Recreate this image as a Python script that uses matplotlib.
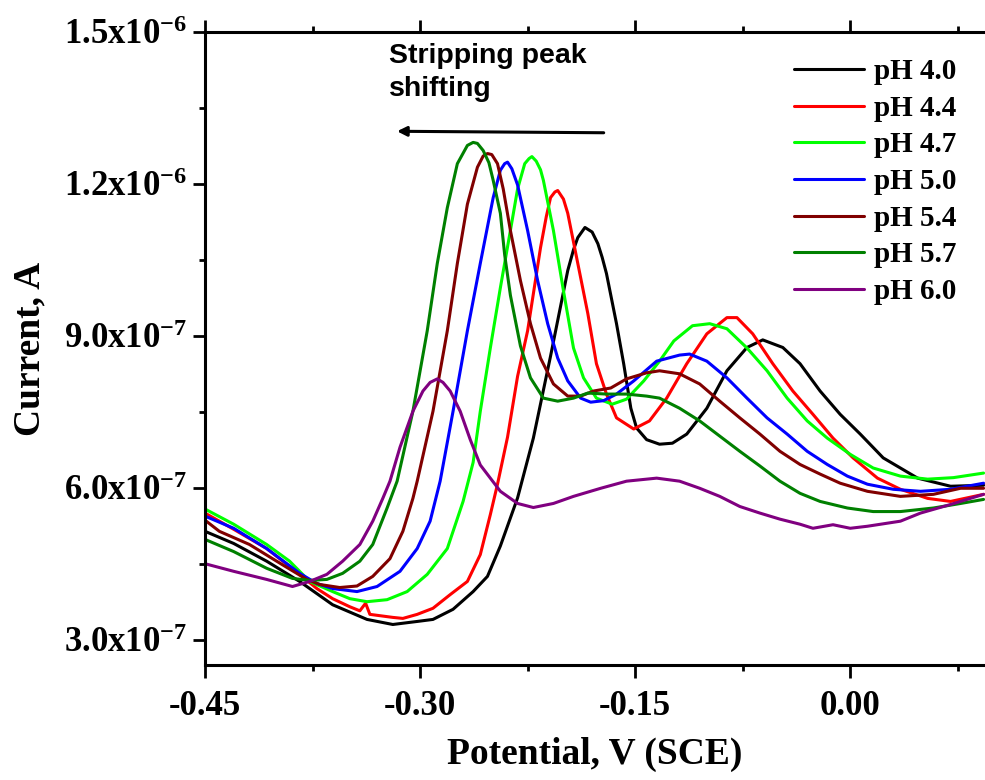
import numpy as np
import matplotlib
matplotlib.use("Agg")
import matplotlib.pyplot as plt
from matplotlib.ticker import FixedLocator, MultipleLocator

plt.rcParams['font.family'] = ['Liberation Serif', 'DejaVu Serif']
plt.rcParams['font.weight'] = 'bold'
plt.rcParams['mathtext.fontset'] = 'custom'
plt.rcParams['mathtext.rm'] = 'Liberation Serif:bold'
plt.rcParams['mathtext.it'] = 'Liberation Serif:bold'
plt.rcParams['mathtext.bf'] = 'Liberation Serif:bold'
plt.rcParams['axes.unicode_minus'] = False

SCALE = 1e-7  # current values below are in units of 1e-7 A

labels = ['pH 4.0', 'pH 4.4', 'pH 4.7', 'pH 5.0', 'pH 5.4', 'pH 5.7', 'pH 6.0']
colors = ['#000000', '#FF0000', '#00FF00', '#0000FF', '#800000', '#008000', '#800080']

x_ph40 = [-0.450, -0.430, -0.407, -0.384, -0.361, -0.337, -0.319, -0.302, -0.291, -0.277, -0.263, -0.253,
          -0.244, -0.232, -0.221, -0.209, -0.197, -0.193, -0.190, -0.185, -0.180, -0.176, -0.173, -0.170,
          -0.163, -0.158, -0.153, -0.149, -0.142, -0.133, -0.124, -0.114, -0.100, -0.086, -0.072, -0.061,
          -0.047, -0.035, -0.021, -0.007, 0.007, 0.023, 0.047, 0.070, 0.093]
y_ph40 = [5.14, 4.90, 4.55, 4.15, 3.69, 3.40, 3.30, 3.36, 3.40, 3.60, 3.95, 4.25,
          4.85, 5.80, 6.98, 8.60, 10.29, 10.70, 10.94, 11.14, 11.05, 10.82, 10.55, 10.23,
          9.24, 8.45, 7.57, 7.18, 6.95, 6.86, 6.88, 7.06, 7.57, 8.31, 8.77, 8.92,
          8.77, 8.45, 7.91, 7.45, 7.06, 6.59, 6.19, 6.03, 6.05]

x_ph44 = [-0.450, -0.430, -0.407, -0.384, -0.372, -0.361, -0.349, -0.342, -0.338, -0.335, -0.319, -0.312,
          -0.302, -0.291, -0.279, -0.267, -0.258, -0.251, -0.246, -0.239, -0.232, -0.225, -0.216, -0.212,
          -0.209, -0.206, -0.204, -0.200, -0.197, -0.190, -0.183, -0.177, -0.170, -0.163, -0.151, -0.140,
          -0.128, -0.114, -0.100, -0.086, -0.079, -0.068, -0.054, -0.040, -0.026, -0.012, 0.002, 0.019,
          0.035, 0.054, 0.070, 0.093]
y_ph44 = [5.50, 5.18, 4.80, 4.29, 4.01, 3.81, 3.65, 3.57, 3.72, 3.50, 3.44, 3.42,
          3.50, 3.62, 3.89, 4.15, 4.68, 5.47, 6.07, 7.00, 8.20, 9.10, 10.74, 11.35,
          11.73, 11.84, 11.87, 11.70, 11.42, 10.43, 9.44, 8.45, 7.85, 7.38, 7.16, 7.32,
          7.77, 8.45, 9.04, 9.36, 9.36, 9.04, 8.45, 7.91, 7.45, 6.98, 6.59, 6.19,
          5.97, 5.79, 5.73, 5.87]

x_ph47 = [-0.450, -0.430, -0.407, -0.391, -0.377, -0.361, -0.349, -0.337, -0.323, -0.309, -0.295, -0.281,
          -0.270, -0.263, -0.258, -0.251, -0.244, -0.237, -0.232, -0.227, -0.224, -0.222, -0.219, -0.216,
          -0.214, -0.207, -0.200, -0.193, -0.186, -0.177, -0.166, -0.156, -0.144, -0.133, -0.123, -0.110,
          -0.098, -0.086, -0.072, -0.058, -0.044, -0.030, -0.016, 0.000, 0.016, 0.035, 0.054, 0.072, 0.093]
y_ph47 = [5.58, 5.28, 4.88, 4.55, 4.15, 3.95, 3.81, 3.75, 3.79, 3.95, 4.29, 4.80,
          5.73, 6.50, 7.51, 8.76, 9.95, 11.08, 11.90, 12.40, 12.50, 12.54, 12.45, 12.28,
          12.07, 11.08, 9.89, 8.76, 8.17, 7.77, 7.65, 7.75, 8.11, 8.50, 8.90, 9.20,
          9.24, 9.14, 8.76, 8.31, 7.77, 7.32, 6.98, 6.66, 6.39, 6.23, 6.17, 6.20, 6.29]

x_ph50 = [-0.450, -0.430, -0.407, -0.384, -0.372, -0.361, -0.344, -0.330, -0.314, -0.302, -0.293, -0.286,
          -0.277, -0.267, -0.258, -0.249, -0.244, -0.241, -0.239, -0.236, -0.232, -0.225, -0.218, -0.211,
          -0.204, -0.197, -0.188, -0.181, -0.172, -0.163, -0.151, -0.135, -0.119, -0.112, -0.100, -0.086,
          -0.072, -0.058, -0.044, -0.030, -0.016, -0.002, 0.012, 0.030, 0.049, 0.070, 0.093]
y_ph50 = [5.44, 5.20, 4.80, 4.31, 4.11, 4.01, 3.95, 4.05, 4.35, 4.80, 5.34, 6.13,
          7.51, 9.10, 10.43, 11.73, 12.27, 12.40, 12.43, 12.30, 11.98, 11.08, 10.09, 9.24,
          8.56, 8.11, 7.77, 7.69, 7.72, 7.85, 8.11, 8.50, 8.62, 8.64, 8.50, 8.17,
          7.77, 7.38, 7.06, 6.72, 6.46, 6.23, 6.07, 5.97, 5.93, 5.97, 6.09]

x_ph54 = [-0.450, -0.440, -0.419, -0.396, -0.379, -0.370, -0.356, -0.344, -0.333, -0.321, -0.312, -0.305,
          -0.302, -0.291, -0.281, -0.274, -0.267, -0.260, -0.256, -0.253, -0.250, -0.246, -0.242, -0.237,
          -0.230, -0.223, -0.216, -0.207, -0.197, -0.188, -0.179, -0.167, -0.156, -0.142, -0.133, -0.119,
          -0.105, -0.091, -0.077, -0.063, -0.049, -0.035, -0.021, -0.007, 0.012, 0.035, 0.058, 0.077, 0.093]
y_ph54 = [5.36, 5.14, 4.88, 4.48, 4.19, 4.09, 4.03, 4.06, 4.25, 4.60, 5.14, 5.79,
          6.13, 7.51, 9.10, 10.43, 11.60, 12.33, 12.55, 12.60, 12.58, 12.40, 11.90, 11.08,
          10.09, 9.24, 8.56, 8.05, 7.81, 7.81, 7.91, 7.97, 8.15, 8.27, 8.31, 8.25,
          8.05, 7.71, 7.38, 7.06, 6.72, 6.46, 6.27, 6.09, 5.93, 5.83, 5.87, 5.99, 5.99]

x_ph57 = [-0.450, -0.430, -0.407, -0.389, -0.377, -0.365, -0.354, -0.342, -0.333, -0.323, -0.316, -0.305,
          -0.295, -0.288, -0.281, -0.274, -0.267, -0.263, -0.260, -0.256, -0.252, -0.249, -0.244, -0.241,
          -0.237, -0.230, -0.223, -0.214, -0.204, -0.193, -0.183, -0.170, -0.156, -0.142, -0.133, -0.119,
          -0.105, -0.091, -0.077, -0.063, -0.049, -0.035, -0.021, -0.002, 0.016, 0.035, 0.058, 0.077, 0.093]
y_ph57 = [4.98, 4.74, 4.41, 4.21, 4.17, 4.19, 4.31, 4.55, 4.88, 5.60, 6.13, 7.51,
          9.10, 10.43, 11.53, 12.40, 12.76, 12.82, 12.80, 12.66, 12.42, 12.07, 11.42, 10.60,
          9.80, 8.80, 8.17, 7.77, 7.71, 7.77, 7.87, 7.85, 7.85, 7.81, 7.77, 7.57,
          7.32, 7.02, 6.72, 6.43, 6.13, 5.89, 5.73, 5.60, 5.53, 5.53, 5.60, 5.69, 5.77]

x_ph60 = [-0.450, -0.430, -0.407, -0.389, -0.377, -0.365, -0.354, -0.342, -0.333, -0.326, -0.321, -0.314,
          -0.305, -0.298, -0.293, -0.288, -0.284, -0.279, -0.272, -0.265, -0.258, -0.244, -0.232, -0.221,
          -0.207, -0.193, -0.174, -0.156, -0.135, -0.119, -0.105, -0.091, -0.077, -0.063, -0.049, -0.035,
          -0.026, -0.012, 0.000, 0.012, 0.035, 0.049, 0.070, 0.093]
y_ph60 = [4.50, 4.35, 4.19, 4.05, 4.15, 4.29, 4.55, 4.88, 5.34, 5.79, 6.13, 6.80,
          7.51, 7.91, 8.08, 8.15, 8.08, 7.91, 7.51, 6.95, 6.45, 5.93, 5.69, 5.61,
          5.69, 5.83, 5.99, 6.13, 6.19, 6.13, 5.99, 5.83, 5.63, 5.50, 5.38, 5.28,
          5.20, 5.27, 5.20, 5.24, 5.34, 5.50, 5.67, 5.87]

series_x = [x_ph40, x_ph44, x_ph47, x_ph50, x_ph54, x_ph57, x_ph60]
series_y = [y_ph40, y_ph44, y_ph47, y_ph50, y_ph54, y_ph57, y_ph60]

x_ticks = [-0.45, -0.30, -0.15, 0.00]
x_tick_labels = ['-0.45', '-0.30', '-0.15', '0.00']
y_ticks = [3e-7, 6e-7, 9e-7, 1.2e-6, 1.5e-6]
y_tick_labels = ['3.0x10$^{-7}$', '6.0x10$^{-7}$', '9.0x10$^{-7}$', '1.2x10$^{-6}$', '1.5x10$^{-6}$']

fig = plt.figure(figsize=(9.85, 7.8), dpi=100)
ax = fig.add_axes([205/985, 1 - 665/780, 780/985, 633/780])

for xs, ys, c, lab in zip(series_x, series_y, colors, labels):
    ax.plot(xs, np.array(ys) * SCALE, color=c, lw=2.2, label=lab,
            solid_joinstyle='round', solid_capstyle='round')

ax.set_xlim(-0.45, 0.094)
ax.set_ylim(2.5e-7, 1.5e-6)

ax.xaxis.set_major_locator(FixedLocator(x_ticks))
ax.set_xticklabels(x_tick_labels)
ax.xaxis.set_minor_locator(MultipleLocator(0.075))
ax.yaxis.set_major_locator(FixedLocator(y_ticks))
ax.set_yticklabels(y_tick_labels)
ax.yaxis.set_minor_locator(FixedLocator([4.5e-7, 7.5e-7, 1.05e-6, 1.35e-6]))

for s in ['left', 'bottom', 'top']:
    ax.spines[s].set_linewidth(2.2)
ax.spines['right'].set_visible(False)

ax.tick_params(axis='both', which='major', direction='out', length=9, width=2, labelsize=25)
ax.tick_params(axis='both', which='minor', direction='out', length=4, width=2)
ax.tick_params(axis='x', which='major', pad=9)
ax.tick_params(axis='y', which='major', pad=4)
ax.tick_params(axis='x', which='both', top=True)
for t in ax.get_xticklabels() + ax.get_yticklabels():
    t.set_fontweight('bold')

ax.set_xlabel('Potential, V (SCE)', fontsize=27, fontweight='bold', labelpad=10)
ax.set_ylabel('Current, A', fontsize=27, fontweight='bold', labelpad=12)

leg = ax.legend(loc='upper right', bbox_to_anchor=(0.997, 1.0), frameon=False,
                prop={'family': 'Liberation Serif', 'weight': 'bold', 'size': 21},
                handlelength=2.4, handletextpad=0.35, labelspacing=0.33, borderaxespad=0.5)
for lh in leg.get_lines():
    lh.set_linewidth(2.2)

ax.text(-0.322, 1.479e-6, 'Stripping peak\nshifting', family=['Liberation Sans', 'DejaVu Sans'],
        fontweight='bold', fontsize=20.5, va='top', ha='left', linespacing=1.35)
ax.annotate('', xy=(-0.318, 1.304e-6), xytext=(-0.170, 1.301e-6),
            arrowprops=dict(arrowstyle='-|>', color='black', lw=2.2, mutation_scale=14))

fig.savefig('out.png', dpi=100)
